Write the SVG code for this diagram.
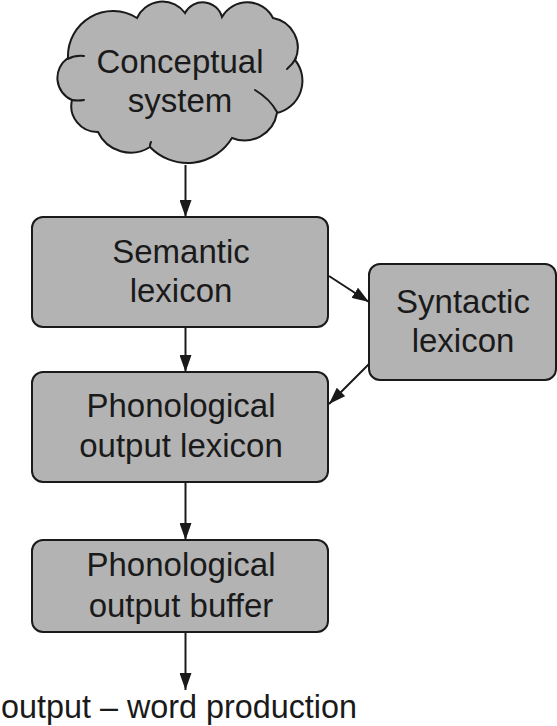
<svg xmlns="http://www.w3.org/2000/svg" width="557" height="726" viewBox="0 0 557 726">
<defs>
<marker id="ah" markerWidth="17" markerHeight="12" refX="17" refY="6" orient="auto" markerUnits="userSpaceOnUse">
<path d="M0,0 L17,6 L0,12 z" fill="#1a1a1a"/>
</marker>
<style>
.box{fill:#b3b3b3;stroke:#1a1a1a;stroke-width:2}
.t{font-family:"Liberation Sans",Arial,sans-serif;font-size:33px;fill:#1a1a1a;text-anchor:middle}
.c{stroke:#1a1a1a;stroke-width:2;fill:none;marker-end:url(#ah)}
.hook{stroke:#1a1a1a;stroke-width:2;fill:none;stroke-linecap:round}
</style>
</defs>
<rect width="557" height="726" fill="#ffffff"/>
<g id="conceptual">
<path class="box" d="M 68 58 A 45 45 0 0 1 137 18 A 28 28 0 0 1 185 13 A 20 20 0 0 1 222 17 A 29 29 0 0 1 273 18 A 30 30 0 0 1 295 60 A 33 33 0 0 1 277 113 A 33 33 0 0 1 232 138 A 52 52 0 0 1 150 147 A 36 36 0 0 1 98 132 A 26 26 0 0 1 72 100 A 24 24 0 0 1 68 58 Z"/>
<path class="hook" d="M 68 59 Q 75 55 84 56"/>
<path class="hook" d="M 296 58 Q 293 64 287 69"/>
<path class="hook" d="M 277 112 Q 270 99 255 90"/>
<path class="hook" d="M 72 100 Q 78 101 84 100"/>
<path class="hook" d="M 150 146 Q 150 144 151 142"/>
<text class="t" x="180" y="73">Conceptual</text>
<text class="t" x="180" y="112">system</text>
</g>
<g id="semantic">
<rect class="box" x="32" y="217" width="296" height="110" rx="11"/>
<text class="t" x="181" y="263">Semantic</text>
<text class="t" x="181" y="302">lexicon</text>
</g>
<g id="syntactic">
<rect class="box" x="369" y="264" width="187" height="116" rx="11"/>
<text class="t" x="463" y="313">Syntactic</text>
<text class="t" x="463" y="352">lexicon</text>
</g>
<g id="phon-lexicon">
<rect class="box" x="32" y="372" width="296" height="110" rx="11"/>
<text class="t" x="181" y="417">Phonological</text>
<text class="t" x="181" y="457">output lexicon</text>
</g>
<g id="phon-buffer">
<rect class="box" x="32" y="540" width="296" height="92" rx="11"/>
<text class="t" x="181" y="576">Phonological</text>
<text class="t" x="181" y="617">output buffer</text>
</g>
<g id="output">
<text class="t" x="1" y="718" style="text-anchor:start" textLength="356" lengthAdjust="spacingAndGlyphs">output – word production</text>
</g>
<g id="connectors">
<line class="c" x1="185.5" y1="165" x2="185.5" y2="217"/>
<line class="c" x1="185.5" y1="327" x2="185.5" y2="372"/>
<line class="c" x1="185.5" y1="482" x2="185.5" y2="540"/>
<line class="c" x1="185.5" y1="632" x2="185.5" y2="690"/>
<line class="c" x1="329" y1="276" x2="369" y2="302"/>
<line class="c" x1="369" y1="364" x2="329" y2="404"/>
</g>
</svg>
